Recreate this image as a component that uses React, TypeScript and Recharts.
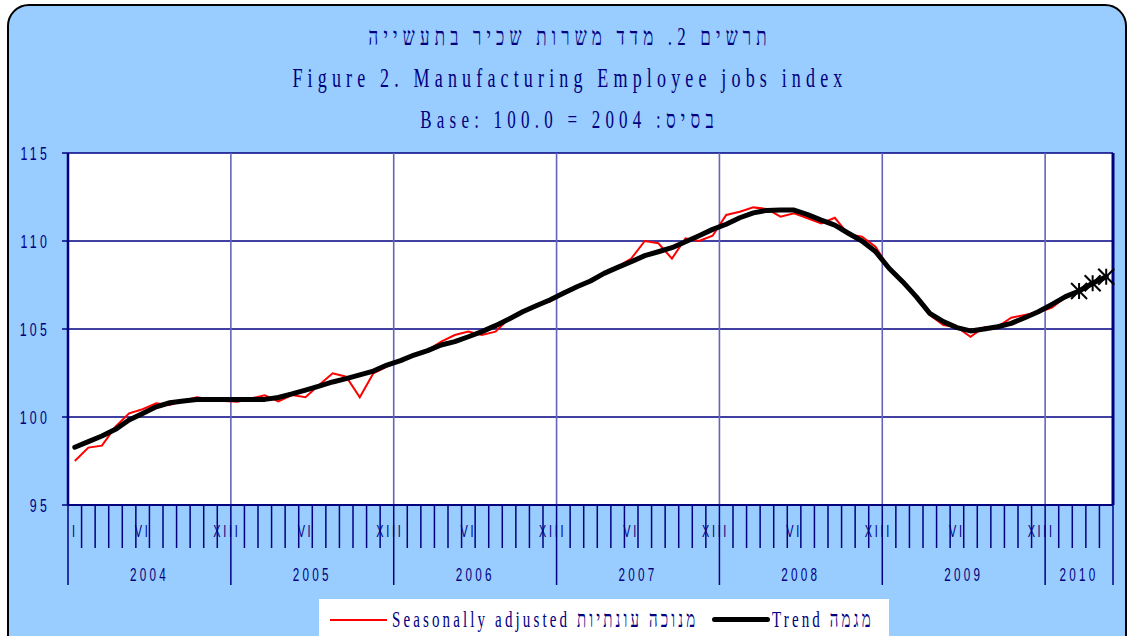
import { LineChart, Line, XAxis, YAxis, CartesianGrid, ReferenceLine } from 'recharts';

// monthly, Jan 2004 - May 2010
const seasonallyAdjusted = [
  97.5, 98.26, 98.37, 99.45, 100.21, 100.44, 100.78, 100.68, 100.93, 101.12, 101.0, 100.91,
  100.87, 101.06, 101.23, 100.89, 101.25, 101.12, 101.82, 102.48, 102.29, 101.12, 102.48, 102.86,
  103.2, 103.5, 103.8, 104.28, 104.66, 104.85, 104.66, 104.85, 105.6, 106.0, 106.4, 106.55,
  107.12, 107.35, 107.73, 108.2, 108.55, 109.0, 110.0, 109.87, 109.0, 110.15, 110.0, 110.3,
  111.48, 111.66, 111.91, 111.82, 111.38, 111.57, 111.29, 111.0, 111.32, 110.38, 110.25, 109.68,
  108.45, 107.69, 106.84, 105.8, 105.23, 105.1, 104.56, 105.1, 105.13, 105.64, 105.8, 105.95,
  106.21, 106.8, 107.16, 107.6, 107.97,
];

const trend = [
  98.28, 98.6, 98.92, 99.3, 99.83, 100.2, 100.58, 100.81, 100.91, 101.0, 101.0, 101.0,
  101.0, 101.0, 101.0, 101.11, 101.31, 101.53, 101.76, 101.99, 102.18, 102.39, 102.61, 102.95,
  103.2, 103.52, 103.77, 104.09, 104.28, 104.56, 104.85, 105.19, 105.57, 105.98, 106.32, 106.65,
  107.03, 107.4, 107.73, 108.16, 108.5, 108.82, 109.17, 109.39, 109.62, 109.96, 110.3, 110.66,
  110.95, 111.32, 111.6, 111.74, 111.76, 111.76, 111.5, 111.19, 110.9, 110.44, 110.0, 109.4,
  108.45, 107.69, 106.84, 105.89, 105.42, 105.08, 104.89, 105.0, 105.13, 105.32, 105.64, 105.98,
  106.4, 106.84, 107.16, 107.6, 107.97,
];

const years = ['2004', '2005', '2006', '2007', '2008', '2009', '2010'];
const monthNames: Record<number, string> = { 0: 'I', 5: 'VI', 11: 'XII' };
const yTicks = [95, 100, 105, 110, 115];
const provisionalFrom = 74; // last three trend points drawn as stars

const NAVY = '#000080';
const BG = '#99ccff';
const PLOT_W = 1045;
const N = seasonallyAdjusted.length;
const STEP = PLOT_W / N;

const data = seasonallyAdjusted.map((v, i) => ({ x: i + 0.5, sa: v, trend: trend[i] }));
const xTicks = Array.from({ length: N + 1 }, (_, i) => i);
const yearStarts = years.map((_, i) => i * 12);

const MonthTick = ({ x, y, payload }: any) => {
  const v = payload.value;
  const isYear = v % 12 === 0 || v === N;
  const name = v < N ? monthNames[v % 12] : undefined;
  const yi = v % 12 === 0 ? v / 12 : -1;
  const span = Math.min(12, N - v);
  return (
    <g>
      <line x1={x} y1={y} x2={x} y2={y + (isYear ? 80 : 43)} stroke={NAVY} strokeWidth={1.5} />
      {name && (
        <g transform={`translate(${x + STEP / 2},${y + 32}) scale(0.68,1)`}>
          <text textAnchor="middle" fill={NAVY} fontSize={16} fontFamily="Liberation Sans" letterSpacing={4}>
            {name}
          </text>
        </g>
      )}
      {yi >= 0 && yi < years.length && (
        <g transform={`translate(${x + (span * STEP) / 2},${y + 76}) scale(0.65,1)`}>
          <text textAnchor="middle" fill={NAVY} fontSize={18} fontFamily="Liberation Sans" letterSpacing={5}>
            {years[yi]}
          </text>
        </g>
      )}
    </g>
  );
};

const ValueTick = ({ x, y, payload }: any) => (
  <g transform={`translate(${x - 10},${y}) scale(0.65,1)`}>
    <text textAnchor="end" dy="0.36em" fill={NAVY} fontSize={19} fontFamily="Liberation Sans" letterSpacing={5}>
      {payload.value}
    </text>
  </g>
);

const StarDot = (props: any) => {
  const { cx, cy, index } = props;
  if (index < provisionalFrom) return <g key={index} />;
  const r = 8;
  return (
    <g key={index} stroke="#000" strokeWidth={2}>
      <line x1={cx - r} y1={cy - r} x2={cx + r} y2={cy + r} />
      <line x1={cx - r} y1={cy + r} x2={cx + r} y2={cy - r} />
      <line x1={cx} y1={cy - r} x2={cx} y2={cy + r} />
    </g>
  );
};

const titleLine = (text: string, top: number, size: number, sx: number, rtl = false) => (
  <div
    dir={rtl ? 'rtl' : 'ltr'}
    style={{ position: 'absolute', left: 0, top, width: 1140, height: 32, lineHeight: '32px', textAlign: 'center' }}
  >
    <span
      style={{
        display: 'inline-block',
        transform: `scaleX(${sx})`,
        fontFamily: 'Liberation Serif',
        fontSize: size,
        letterSpacing: 8,
        color: NAVY,
        whiteSpace: 'nowrap',
      }}
    >
      {text}
    </span>
  </div>
);

const legendText = (text: string, left: number) => (
  <span
    style={{
      position: 'absolute',
      left,
      top: 5,
      transform: 'scaleX(0.625)',
      transformOrigin: 'left center',
      fontFamily: 'Liberation Serif',
      fontSize: 24,
      letterSpacing: 5,
      color: NAVY,
      whiteSpace: 'nowrap',
      lineHeight: '30px',
    }}
  >
    {text}
  </span>
);

export default function App() {
  return (
    <div style={{ position: 'absolute', left: 0, top: 0, width: 1127, height: 636, overflow: 'hidden', background: '#fff' }}>
      <div
        style={{
          position: 'absolute',
          left: 7,
          top: 4,
          width: 1116,
          height: 660,
          border: '2px solid #000',
          borderRadius: 22,
          background: BG,
        }}
      />
      {titleLine('תרשים 2. מדד משרות שכיר בתעשייה', 21, 26, 0.65, true)}
      {titleLine('Figure 2. Manufacturing Employee jobs index', 62, 28, 0.644)}
      {titleLine('בסיס: Base: 100.0 = 2004', 104, 26, 0.653, true)}

      <div style={{ position: 'absolute', left: 0, top: 0 }}>
        <LineChart width={1127} height={636} data={data} margin={{ top: 153, right: 14, bottom: 31, left: 10 }}>
          <CartesianGrid horizontal vertical={false} stroke={NAVY} strokeWidth={1.5} fill="#ffffff" fillOpacity={1} />
          <XAxis
            type="number"
            dataKey="x"
            domain={[0, N]}
            ticks={xTicks}
            interval={0}
            height={100}
            tickSize={0}
            tickMargin={0}
            tickLine={false}
            axisLine={{ stroke: NAVY, strokeWidth: 2 }}
            tick={<MonthTick />}
          />
          <YAxis
            type="number"
            domain={[95, 115]}
            ticks={yTicks}
            width={58}
            tickSize={6}
            tickMargin={2}
            tickLine={{ stroke: NAVY, strokeWidth: 1.5 }}
            axisLine={{ stroke: NAVY, strokeWidth: 2.5 }}
            tick={<ValueTick />}
          />
          {yearStarts.slice(1).map((s) => (
            <ReferenceLine key={s} x={s} stroke="#6464bc" strokeWidth={1.6} />
          ))}
          <ReferenceLine x={N} stroke={NAVY} strokeWidth={3} />
          <Line
            type="linear"
            dataKey="sa"
            stroke="#ff0000"
            strokeWidth={2}
            dot={false}
            isAnimationActive={false}
          />
          <Line
            type="linear"
            dataKey="trend"
            stroke="#000000"
            strokeWidth={5}
            strokeLinejoin="round"
            strokeLinecap="round"
            dot={<StarDot />}
            activeDot={false}
            isAnimationActive={false}
          />
        </LineChart>
      </div>

      <div style={{ position: 'absolute', left: 319, top: 599, width: 570, height: 50, background: '#fff' }}>
        <div style={{ position: 'absolute', left: 11, top: 20, width: 57, height: 2, background: '#ff0000' }} />
        {legendText('Seasonally adjusted מנוכה עונתיות', 73)}
        <div style={{ position: 'absolute', left: 393, top: 18, width: 58, height: 5, borderRadius: 3, background: '#000' }} />
        {legendText('Trend מגמה', 453)}
      </div>
    </div>
  );
}
